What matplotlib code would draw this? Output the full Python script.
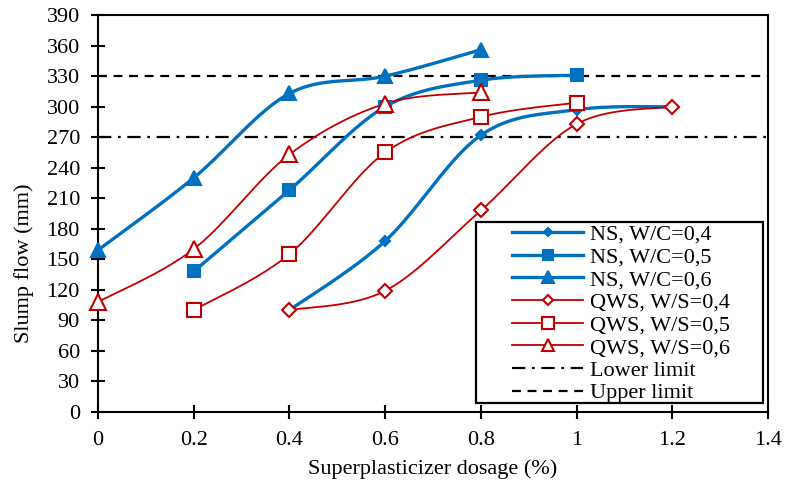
import numpy as np
import matplotlib
matplotlib.use("Agg")
import matplotlib.pyplot as plt
from matplotlib.lines import Line2D
from matplotlib.patches import Rectangle

plt.rcParams['font.family'] = ['Liberation Serif', 'DejaVu Serif']

# ---- data ----
x_a = [0.4, 0.6, 0.8, 1.0, 1.2]
x_b = [0.2, 0.4, 0.6, 0.8, 1.0]
x_c = [0.0, 0.2, 0.4, 0.6, 0.8]

ns_04 = [100, 168, 272, 297, 300]
ns_05 = [138, 218, 300, 326, 331]
ns_06 = [159, 230, 313, 330, 356]
qws_04 = [100, 119, 198, 283, 300]
qws_05 = [100, 155, 255, 290, 304]
qws_06 = [108, 160, 253, 303, 314]

lower_limit = 270
upper_limit = 330

labels = ["NS, W/C=0,4", "NS, W/C=0,5", "NS, W/C=0,6",
          "QWS, W/S=0,4", "QWS, W/S=0,5", "QWS, W/S=0,6"]
xticks = [0, 0.2, 0.4, 0.6, 0.8, 1, 1.2, 1.4]
xtick_labels = ["0", "0.2", "0.4", "0.6", "0.8", "1", "1.2", "1.4"]
yticks = list(range(0, 391, 30))

BLUE = "#0070C0"
RED = "#C00000"

fig = plt.figure(figsize=(7.87, 4.88), dpi=100)
ax = fig.add_axes([0.1245, 0.156, 0.8515, 0.813])
ax.set_xlim(0, 1.4)
ax.set_ylim(0, 390)
fig.canvas.draw()


def smooth(xs, ys, n=40):
    # Excel-like Bezier smoothing computed in display space
    pts = ax.transData.transform(np.column_stack([xs, ys]))
    P = np.vstack([pts[0], pts, pts[-1]])
    out = []
    for i in range(1, len(P) - 2):
        p0, p1, p2, p3 = P[i - 1], P[i], P[i + 1], P[i + 2]
        b1 = p1 + (p2 - p0) / 6.0
        b2 = p2 - (p3 - p1) / 6.0
        t = np.linspace(0, 1, n)[:, None]
        seg = ((1 - t) ** 3) * p1 + 3 * ((1 - t) ** 2) * t * b1 + 3 * (1 - t) * t ** 2 * b2 + t ** 3 * p2
        out.append(seg)
    out = np.vstack(out)
    d = ax.transData.inverted().transform(out)
    return d[:, 0], d[:, 1]


series = [
    (x_a, ns_04, BLUE, 2.4, 'D', 5, BLUE),
    (x_b, ns_05, BLUE, 2.4, 's', 9, BLUE),
    (x_c, ns_06, BLUE, 2.4, '^', 10, BLUE),
    (x_a, qws_04, RED, 1.3, 'D', 7, 'white'),
    (x_b, qws_05, RED, 1.3, 's', 10, 'white'),
    (x_c, qws_06, RED, 1.3, '^', 11, 'white'),
]

handles = []
for (xs, ys, col, lw, mk, ms, fc), lab in zip(series, labels):
    sx, sy = smooth(xs, ys)
    ax.plot(sx, sy, color=col, lw=lw, zorder=3, solid_capstyle='round')
    ax.plot(xs, ys, linestyle='none', marker=mk, ms=ms, mfc=fc, mec=col,
            mew=1.5, zorder=4, clip_on=False)
    handles.append(Line2D([], [], color=col, lw=lw, marker=mk,
                          ms=ms * 0.8, mfc=fc, mec=col, mew=1.5))

ax.axhline(lower_limit, color='black', lw=1.6, linestyle=(0, (6, 3, 1.2, 3)), zorder=2)
ax.axhline(upper_limit, color='black', lw=1.6, linestyle=(0, (4, 3)), zorder=2)
handles.append(Line2D([], [], color='black', lw=1.6, linestyle=(0, (6, 3, 1.2, 3))))
handles.append(Line2D([], [], color='black', lw=1.6, linestyle=(0, (4, 3))))
all_labels = labels + ["Lower limit", "Upper limit"]

# legend box (Excel style, with wide side padding)
box = Rectangle((0.564, 0.0227), 0.4285, 0.456, transform=ax.transAxes,
                facecolor='white', edgecolor='black', lw=1.6, zorder=5)
ax.add_patch(box)

leg = ax.legend(handles, all_labels, loc='upper left', bbox_to_anchor=(0.618, 0.473),
                fontsize=16, frameon=False, handlelength=3.2, labelspacing=0.095,
                borderpad=0.0, handletextpad=0.3, borderaxespad=0)
leg.set_zorder(6)

for s in ['top', 'right', 'left', 'bottom']:
    ax.spines[s].set_linewidth(1.5)

ax.set_xticks(xticks)
ax.set_xticklabels(xtick_labels)
ax.set_yticks(yticks)
ax.tick_params(axis='both', direction='inout', length=10, width=1.5,
               labelsize=16)
ax.tick_params(axis='y', pad=8)
ax.tick_params(axis='x', pad=9)

ax.set_xlabel("Superplasticizer dosage (%)", fontsize=16)
ax.set_ylabel("Slump flow (mm)", fontsize=16)
ax.xaxis.set_label_coords(0.5, -0.12)
ax.yaxis.label.set_verticalalignment('center')
ax.yaxis.set_label_coords(-0.11, 0.375)

fig.savefig("out.png", dpi=100)
